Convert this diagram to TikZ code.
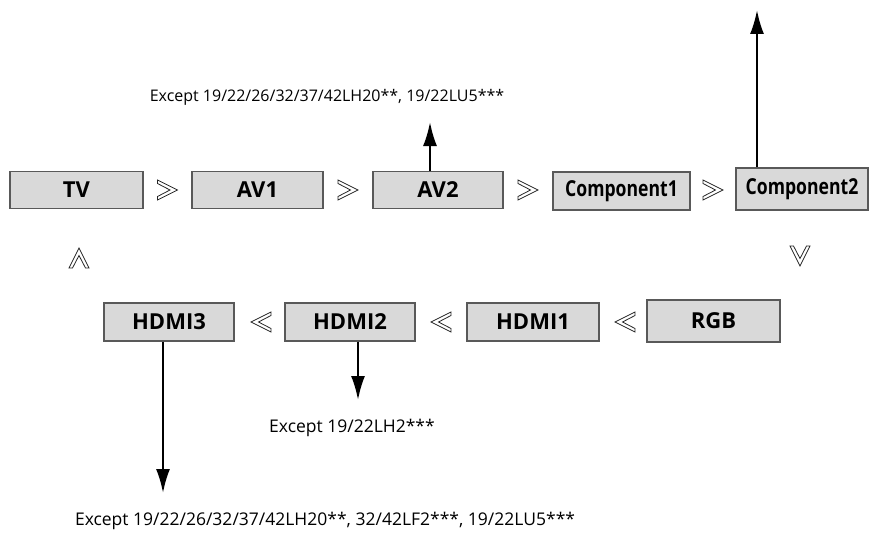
\documentclass[tikz,border=0pt]{standalone}
\usepackage{fontspec}
\setmainfont{Open Sans}
\usepackage{graphicx}
\usepackage{tikz}
\usetikzlibrary{arrows.meta}

\tikzset{
  srcbox/.style={draw=black!65, line width=1.3pt, fill=black!15, inner sep=0pt,
    minimum width=131pt, minimum height=37pt, font=\fontsize{22}{26}\selectfont\bfseries},
  outarrow/.style={line width=2.2pt, -{Latex[length=24pt,width=14pt]}},
  note/.style={inner sep=0pt, font=\fontsize{17.5}{21}\selectfont},
  chev/.pic={\draw[line width=0.8pt, black!85] (-10,-10) -- (10,0) -- (-10,10) -- (-10,6.5) -- (2.5,0) -- (-10,-6.5) -- cycle;}
}
\newcommand{\narrowlbl}[1]{\scalebox{0.8}[1]{#1}}

\begin{document}
\begin{tikzpicture}[x=1pt,y=-1pt]
\useasboundingbox (0,0) rectangle (869,535);

% top row
\node[srcbox, minimum width=133pt] (tv) at (76.5,190) {TV};
\node[srcbox] (av1) at (257.5,190) {AV1};
\node[srcbox, minimum width=130pt] (av2) at (438,190) {AV2};
\node[srcbox, minimum width=137pt, minimum height=38pt] (comp1) at (621.5,191) {\narrowlbl{Component1}};
\node[srcbox, minimum width=132pt, minimum height=42pt] (comp2) at (802,189) {\narrowlbl{Component2}};

% bottom row
\node[srcbox, minimum width=130pt, minimum height=38pt] (hdmi3) at (169,322) {HDMI3};
\node[srcbox, minimum width=130pt, minimum height=38pt] (hdmi2) at (350,322) {HDMI2};
\node[srcbox, minimum width=132pt, minimum height=38pt] (hdmi1) at (533,322) {HDMI1};
\node[srcbox, minimum width=133pt, minimum height=42pt] (rgb) at (713.5,321) {RGB};

% order marks
\pic at (167.5,190) {chev};
\pic at (348,190) {chev};
\pic at (528,190) {chev};
\pic at (713,190) {chev};
\pic[rotate=-90] at (800,256) {chev};
\pic[rotate=180] at (625,322) {chev};
\pic[rotate=180] at (441,322) {chev};
\pic[rotate=180] at (261,322) {chev};
\pic[rotate=90] at (79,258) {chev};

% model notes
\node[note, font=\fontsize{16}{19}\selectfont] (note1) at (327,97) {Except 19/22/26/32/37/42LH20**, 19/22LU5***};
\node[note] (note2) at (352,428) {Except 19/22LH2***};
\node[note] (note3) at (325,521) {Except 19/22/26/32/37/42LH20**, 32/42LF2***, 19/22LU5***};

\coordinate (av2up) at (430,122);
\coordinate (comp2up) at (757,10);
\coordinate (hdmi2down) at (358,400);
\coordinate (hdmi3down) at (163,493);

\draw[outarrow] ([xshift=-8pt]av2.north) -- (av2up);
\draw[outarrow] ([xshift=-45pt]comp2.north) -- (comp2up);
\draw[outarrow] ([xshift=8pt]hdmi2.south) -- (hdmi2down);
\draw[outarrow] ([xshift=-6pt]hdmi3.south) -- (hdmi3down);

\end{tikzpicture}
\end{document}
